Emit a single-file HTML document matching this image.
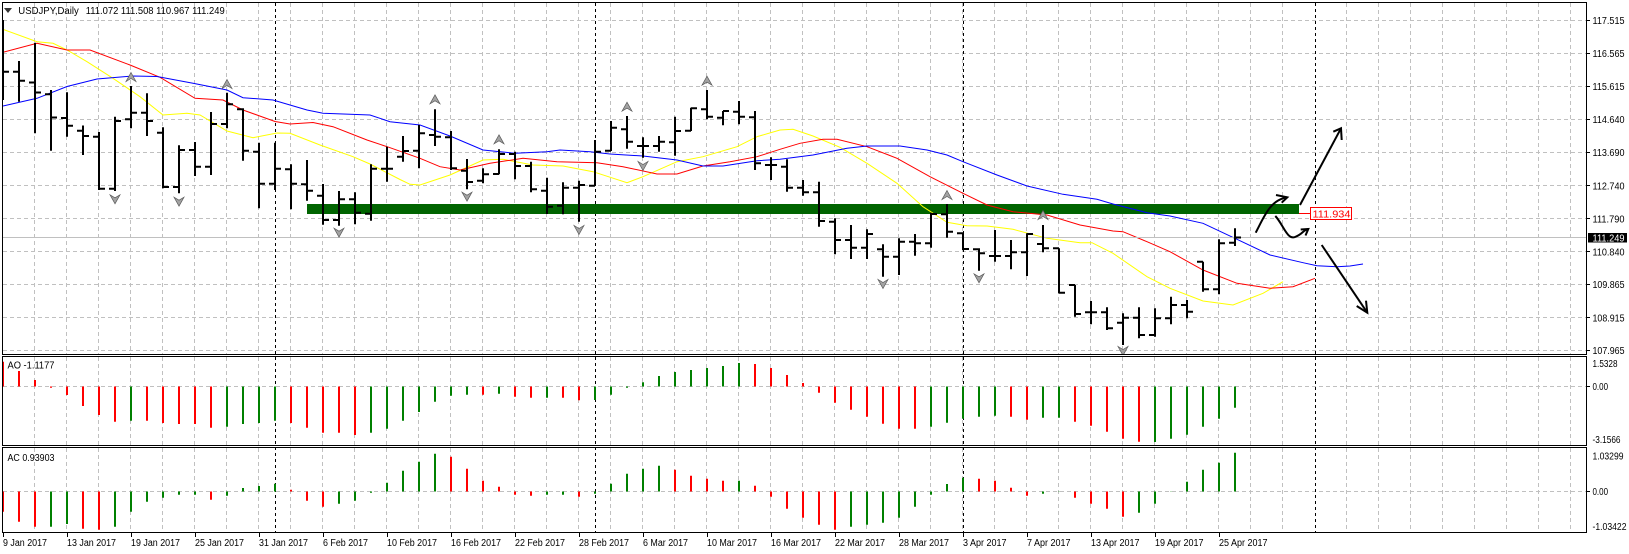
<!DOCTYPE html>
<html><head><meta charset="utf-8"><style>
html,body{margin:0;padding:0;background:#fff;}
svg{display:block;}
text{font-family:"Liberation Sans",sans-serif;font-size:10px;}
</style></head><body>
<svg width="1629" height="554" viewBox="0 0 1629 554" xmlns="http://www.w3.org/2000/svg">
<defs>
<clipPath id="cm"><rect x="3" y="3" width="1583" height="351"/></clipPath>
<clipPath id="ca"><rect x="3" y="357" width="1583" height="88"/></clipPath>
<clipPath id="cc"><rect x="3" y="448" width="1583" height="84"/></clipPath>
<polygon id="fu" points="0,-4.5 5,4.5 0,1.5 -5,4.5" fill="#a3a3a3" stroke="#5a5a5a" stroke-width="0.7"/>
<polygon id="fd" points="0,4.5 5,-4.5 0,-1.5 -5,-4.5" fill="#a3a3a3" stroke="#5a5a5a" stroke-width="0.7"/>
</defs>
<rect width="1629" height="554" fill="#fff"/>

<!-- grids -->
<g stroke="#c0c0c0" stroke-width="1" stroke-dasharray="4 3" fill="none">
<path d="M3 20.5H1586M3 53.5H1586M3 86.5H1586M3 119.5H1586M3 152.5H1586M3 185.5H1586M3 218.5H1586M3 251.5H1586M3 284.5H1586M3 317.5H1586M3 350.5H1586"/>
<path d="M3 386.5H1586M3 491.5H1586"/>
<g id="vg">
<path d="M34.5 3V354M66.5 3V354M98.5 3V354M130.5 3V354M162.5 3V354M194.5 3V354M226.5 3V354M258.5 3V354M290.5 3V354M322.5 3V354M354.5 3V354M386.5 3V354M418.5 3V354M450.5 3V354M482.5 3V354M514.5 3V354M546.5 3V354M578.5 3V354M610.5 3V354M642.5 3V354M674.5 3V354M706.5 3V354M738.5 3V354M770.5 3V354M802.5 3V354M834.5 3V354M866.5 3V354M898.5 3V354M930.5 3V354M962.5 3V354M994.5 3V354M1026.5 3V354M1058.5 3V354M1090.5 3V354M1122.5 3V354M1154.5 3V354M1186.5 3V354M1218.5 3V354M1250.5 3V354M1282.5 3V354M1346.5 3V354M1378.5 3V354M1410.5 3V354M1442.5 3V354M1474.5 3V354M1506.5 3V354M1538.5 3V354M1570.5 3V354"/>
</g>
<path d="M34.5 357V445M66.5 357V445M98.5 357V445M130.5 357V445M162.5 357V445M194.5 357V445M226.5 357V445M258.5 357V445M290.5 357V445M322.5 357V445M354.5 357V445M386.5 357V445M418.5 357V445M450.5 357V445M482.5 357V445M514.5 357V445M546.5 357V445M578.5 357V445M610.5 357V445M642.5 357V445M674.5 357V445M706.5 357V445M738.5 357V445M770.5 357V445M802.5 357V445M834.5 357V445M866.5 357V445M898.5 357V445M930.5 357V445M962.5 357V445M994.5 357V445M1026.5 357V445M1058.5 357V445M1090.5 357V445M1122.5 357V445M1154.5 357V445M1186.5 357V445M1218.5 357V445M1250.5 357V445M1282.5 357V445M1346.5 357V445M1378.5 357V445M1410.5 357V445M1442.5 357V445M1474.5 357V445M1506.5 357V445M1538.5 357V445M1570.5 357V445"/>
<path d="M34.5 448V532M66.5 448V532M98.5 448V532M130.5 448V532M162.5 448V532M194.5 448V532M226.5 448V532M258.5 448V532M290.5 448V532M322.5 448V532M354.5 448V532M386.5 448V532M418.5 448V532M450.5 448V532M482.5 448V532M514.5 448V532M546.5 448V532M578.5 448V532M610.5 448V532M642.5 448V532M674.5 448V532M706.5 448V532M738.5 448V532M770.5 448V532M802.5 448V532M834.5 448V532M866.5 448V532M898.5 448V532M930.5 448V532M962.5 448V532M994.5 448V532M1026.5 448V532M1058.5 448V532M1090.5 448V532M1122.5 448V532M1154.5 448V532M1186.5 448V532M1218.5 448V532M1250.5 448V532M1282.5 448V532M1346.5 448V532M1378.5 448V532M1410.5 448V532M1442.5 448V532M1474.5 448V532M1506.5 448V532M1538.5 448V532M1570.5 448V532"/>
</g>

<!-- period separators -->
<path d="M275.5 3V532M595.5 3V532M963.5 3V532M1315.5 3V532" stroke="#000" stroke-width="1" stroke-dasharray="3 3" fill="none"/>

<!-- main pane content -->
<g clip-path="url(#cm)">
<rect x="307" y="204" width="992" height="10" fill="#006400"/>
<polyline fill="none" stroke="#ffff00" stroke-width="1" points="3,29.3 37,41.7 53,43.3 67,50 87,61.7 113,78.3 140,96.7 163,115 187,113.3 200,115 227,131 253,137.7 277,133 290,133.3 320,145 353,156.7 370,164 400,179.5 410,184.3 420,185 450,175 483,160 503,159.3 533,165 563,166 593,171.7 627,182.7 643,176.7 677,161.7 703,156.7 737,146.7 757,136.7 780,130 793,129.3 813,136 840,147.3 867,163.3 897,183.3 923,206.7 947,222.3 967,225.7 987,226 1013,229.3 1047,238.3 1080,242.7 1092,242.7 1113,253.3 1147,276.7 1170,288.3 1203,301 1233,305 1263,293.3 1283,281.7"/>
<polyline fill="none" stroke="#ff0000" stroke-width="1" points="3,52.3 37,43.3 67,50 90,50 130,65 160,77.3 195,98.3 223,100 243,110 275,121.5 290,124 313,122.5 333,126.7 367,140 390,147.7 420,158.3 440,166.7 460,170 490,163.3 523,158.3 557,161.7 597,162.7 623,166.7 657,174 677,174 703,166 730,161.7 757,156.7 780,149.3 800,143.3 823,139.3 837,139.3 867,146.7 897,158.3 930,176.7 963,193.3 987,205 1013,211.7 1047,215 1080,225 1113,231 1123,231.7 1147,241.7 1170,251.7 1203,270 1237,283.3 1270,288.3 1293,286.7 1315,278.3"/>
<polyline fill="none" stroke="#0000ff" stroke-width="1" points="3,106 37,98.3 67,86.5 97,79 133,76 157,76.5 193,83.3 227,90 243,97.7 273,100 307,110 323,113.3 370,115 390,121.7 420,125 450,136 483,150 515,153.3 547,151.7 560,150 590,151.7 610,154 643,156 677,160 703,166 723,166 757,160.7 780,159.3 813,155 847,148.3 867,146 900,146 927,150 947,155 963,161.7 997,175 1027,186 1063,194.3 1097,199.3 1113,204 1147,212.7 1170,216 1203,223.3 1237,239.3 1270,255 1303,262.7 1317,265.7 1337,266.7 1350,266 1363,264"/>
<path d="M3 237.5H1586" stroke="#c0c0c0" stroke-width="1"/>
<path fill="none" stroke="#000" stroke-width="2" d="M3 20V100M3 71.7H9M19 61V101.7M13 71.7H19M19 80.7H25M35 42.7V133.3M29 82.5H35M35 92.5H41M51 90V150.7M45 94.2H51M51 117.5H57M67 92.3V136.7M61 118H67M67 125.8H73M83 125.5V155M77 130.7H83M83 136H89M99 132V190M93 136.7H99M99 188.7H105M115 116.7V191M109 188.7H115M115 121H121M131 86V128.3M125 119.3H131M131 112.7H137M147 93.3V136M141 112.7H147M147 121H153M163 127.3V188.3M157 132.7H163M163 187H169M179 145.3V193.3M173 187H179M179 150H185M195 142V176M189 150H195M195 166.7H201M211 112V175M205 166.7H211M211 124H217M227 92.7V128.3M221 124H227M227 104.3H233M243 108.3V160.7M237 109.3H243M243 150.7H249M259 142.7V208.3M253 151.7H259M259 183.7H265M275 142.7V190M269 183.7H275M275 168.7H281M291 164.3V209.3M285 169.3H291M291 183.7H297M307 160V200.7M301 184.3H307M307 190.7H313M323 184V224.7M317 195.7H323M323 220H329M339 191V225.7M333 220H339M339 199.3H345M355 192.3V224.3M349 199.3H355M355 212.7H361M371 164.3V220.7M365 213.7H371M371 168.7H377M387 146.7V181.7M381 168.7H387M387 168.7H393M403 136V161.7M397 156.7H403M403 151H409M419 125V168.3M413 150.7H419M419 133.3H425M435 109.3V146M429 135H435M435 136.7H441M451 131V170M445 137.3H451M451 168.3H457M467 159V189.3M461 170.7H467M467 182H473M483 168.3V183.3M477 180.7H483M483 174.3H489M499 149.3V174.3M493 174H499M499 154H505M515 151.7V179.3M509 154H515M515 166H521M531 161.7V192.3M525 166H531M531 189.3H537M547 177.7V214M541 190.7H547M547 206.7H553M563 182.3V214.3M557 205.7H563M563 187.7H569M579 180.7V221.7M573 187.7H579M579 185H585M595 140V186M589 185.7H595M595 151.7H601M611 121V151M605 150.7H611M611 127.7H617M627 116V148.7M621 129.3H627M627 141.7H633M643 137.3V157.7M637 146H643M643 146H649M659 136V151.7M653 146H659M659 141.7H665M675 116.7V155.7M669 142.3H675M675 131H681M691 107.7V131M685 130.7H691M691 108.3H697M707 90V119.3M701 109.3H707M707 116.7H713M723 111V125.3M717 117.7H723M723 111H729M739 101V124.3M733 111.7H739M739 116.7H745M755 111V170M749 117.3H755M755 163.3H761M771 157.3V180M765 165H771M771 165H777M787 159.3V191.7M781 166.7H787M787 187.7H793M803 180V195.7M797 187.7H803M803 192.3H809M819 181.7V226.7M813 192.3H819M819 221H825M835 218.3V254.3M829 221.7H835M835 240H841M851 225V259M845 240H851M851 247.7H857M867 229.3V259M861 247.7H867M867 234H873M883 244.3V276.7M877 249.3H883M883 256.7H889M899 238.3V275M893 256.7H899M899 241.7H905M915 234V255.7M909 241.7H915M915 243.3H921M931 212.7V247.7M925 243.3H931M931 214H937M947 204V237.7M941 214.3H947M947 231.7H953M963 232.7V250M957 233.3H963M963 249H969M979 248.3V270.7M973 249.3H979M979 253.3H985M995 230V261.7M989 256H995M995 256H1001M1011 240V269.3M1005 256H1011M1011 252.3H1017M1027 233.3V276M1021 252.3H1027M1027 234H1033M1043 225V252.3M1037 244H1043M1043 248.3H1049M1059 248.3V293.3M1053 248.3H1059M1059 292.7H1065M1075 285V316.7M1069 285H1075M1075 314H1081M1091 301V324.3M1085 312.3H1091M1091 312.3H1097M1107 307.3V330M1101 312.3H1107M1107 328.3H1113M1123 313.3V345M1117 322.7H1123M1123 317.7H1129M1139 307.3V338.3M1133 317.7H1139M1139 335H1145M1155 308.3V336.7M1149 335H1155M1155 318.3H1161M1171 296.7V324.3M1165 318.3H1171M1171 305H1177M1187 300V318.3M1181 305H1187M1187 311.7H1193M1203 261.7V291.7M1197 261.7H1203M1203 289.3H1209M1219 239.3V294.3M1213 289.3H1219M1219 243.3H1225M1235 228.3V246M1229 242.7H1235M1235 237.5H1241"/>
<!-- fractals -->
<use href="#fu" x="131" y="77"/><use href="#fu" x="227" y="84"/><use href="#fu" x="435" y="99.3"/><use href="#fu" x="499" y="139.3"/><use href="#fu" x="627" y="106.7"/><use href="#fu" x="707" y="80.7"/><use href="#fu" x="947" y="195"/><use href="#fu" x="1043" y="215"/>
<use href="#fd" x="115" y="199.3"/><use href="#fd" x="179" y="201.7"/><use href="#fd" x="339" y="232.7"/><use href="#fd" x="467" y="196.7"/><use href="#fd" x="579" y="230"/><use href="#fd" x="643" y="166"/><use href="#fd" x="883" y="284"/><use href="#fd" x="979" y="278.3"/><use href="#fd" x="1123" y="351"/>
<!-- arrows -->
<g fill="none" stroke="#000" stroke-width="2" stroke-linejoin="miter">
<path d="M1255.7 232.7C1264 217 1270 200 1287.3 197.3"/>
<path d="M1276 195L1287.3 197.3L1281.7 202.7"/>
<path d="M1300 205L1341 128.3"/>
<path d="M1333.3 131.7L1341 128.3L1341.7 140"/>
<path d="M1275.3 216C1283 224 1287 240 1295 237S1303 230 1308.3 229"/>
<path d="M1300.7 229.5L1308.3 229L1305.5 235.5"/>
<path d="M1321.7 245L1367.3 312.7"/>
<path d="M1356.7 306L1367.3 312.7L1366 300.7"/>
</g>
<path d="M1299 213.5H1310.5" stroke="#ff0000" stroke-width="1"/>
<rect x="1310.5" y="207.5" width="41" height="12" fill="#fff" stroke="#ff0000" stroke-width="1"/>
<text x="1312.5" y="217.6" fill="#ff0000" font-size="11" textLength="38" lengthAdjust="spacingAndGlyphs">111.934</text>
</g>

<!-- AO -->
<g clip-path="url(#ca)" fill="none" stroke-width="2">
<path stroke="#ff0000" d="M3 386.5V361.7M19 386.5V371M35 386.5V380M51 386.5V387.7M67 386.5V395M83 386.5V406M99 386.5V415M115 386.5V421.7M147 386.5V420.7M163 386.5V423M179 386.5V424M195 386.5V424M211 386.5V427.7M291 386.5V423M307 386.5V427.7M323 386.5V432.7M339 386.5V432.7M355 386.5V435M483 386.5V394.7M515 386.5V396.7M531 386.5V397.7M563 386.5V397.7M579 386.5V400.3M755 386.5V364M771 386.5V368M787 386.5V375M803 386.5V383M819 386.5V392.7M835 386.5V402.7M851 386.5V409.7M867 386.5V416.7M883 386.5V423.7M899 386.5V428.7M915 386.5V428.7M1011 386.5V416.7M1027 386.5V419.7M1075 386.5V421.7M1091 386.5V425.7M1107 386.5V431.7M1123 386.5V438.7M1139 386.5V441.7"/>
<path stroke="#008000" d="M131 386.5V420.7M227 386.5V426.7M243 386.5V424M259 386.5V423M275 386.5V420.7M371 386.5V432.7M387 386.5V428.7M403 386.5V420.7M419 386.5V412M435 386.5V401.7M451 386.5V395.7M467 386.5V394.7M499 386.5V393.7M547 386.5V397.7M595 386.5V400M611 386.5V394.7M627 386.5V387.7M643 386.5V382.3M659 386.5V376M675 386.5V372M691 386.5V370M707 386.5V368M723 386.5V366M739 386.5V363M931 386.5V426.7M947 386.5V422.7M963 386.5V418.7M979 386.5V416.7M995 386.5V415.7M1043 386.5V417.7M1059 386.5V417.7M1155 386.5V442M1171 386.5V438.7M1187 386.5V434.7M1203 386.5V426.7M1219 386.5V418.7M1235 386.5V407.7"/>
</g>

<!-- AC -->
<g clip-path="url(#cc)" fill="none" stroke-width="2">
<path stroke="#ff0000" d="M3 491.5V511.7M19 491.5V521.7M35 491.5V526.7M83 491.5V528.7M99 491.5V529.7M211 491.5V499.7M291 491.5V489.7M307 491.5V500.7M323 491.5V506.7M451 491.5V456.7M467 491.5V468.7M483 491.5V480.7M499 491.5V486.7M515 491.5V494.7M531 491.5V495.7M579 491.5V496.7M675 491.5V469.7M691 491.5V475.7M707 491.5V478.7M723 491.5V480.7M755 491.5V485.7M771 491.5V496.7M787 491.5V508.7M803 491.5V517.7M819 491.5V524.7M835 491.5V529.7M979 491.5V478.7M995 491.5V480.7M1011 491.5V487.7M1027 491.5V495.7M1075 491.5V497.7M1091 491.5V503.7M1107 491.5V508.7M1123 491.5V516.7"/>
<path stroke="#008000" d="M51 491.5V526.7M67 491.5V524M115 491.5V526.7M131 491.5V511.7M147 491.5V501.7M163 491.5V497.7M179 491.5V494.7M195 491.5V494.7M227 491.5V495.7M243 491.5V488M259 491.5V486M275 491.5V483.7M339 491.5V503.7M355 491.5V500.7M371 491.5V492.7M387 491.5V482.7M403 491.5V470.7M419 491.5V461.7M435 491.5V453.7M547 491.5V494.7M563 491.5V494.7M595 491.5V493.7M611 491.5V483.7M627 491.5V473.7M643 491.5V468.7M659 491.5V465.7M739 491.5V480.7M851 491.5V526.7M867 491.5V524.7M883 491.5V522.7M899 491.5V517.7M915 491.5V506.7M931 491.5V494.7M947 491.5V484M963 491.5V477.7M1043 491.5V493.7M1059 491.5V491.7M1139 491.5V512.7M1155 491.5V503.7M1171 491.5V491.7M1187 491.5V481.7M1203 491.5V469.7M1219 491.5V462.7M1235 491.5V452.7"/>
</g>

<!-- frames -->
<g fill="none" stroke="#000" stroke-width="1">
<rect x="2.5" y="2.5" width="1584" height="352"/>
<rect x="2.5" y="356.5" width="1584" height="89"/>
<rect x="2.5" y="447.5" width="1584" height="85"/>
<path d="M1586 20.5H1590M1586 53.5H1590M1586 86.5H1590M1586 119.5H1590M1586 152.5H1590M1586 185.5H1590M1586 218.5H1590M1586 251.5H1590M1586 284.5H1590M1586 317.5H1590M1586 350.5H1590M1586 386.5H1590M1586 491.5H1590"/>
<path d="M3.5 533V537M67.5 533V537M131.5 533V537M195.5 533V537M259.5 533V537M323.5 533V537M387.5 533V537M451.5 533V537M515.5 533V537M579.5 533V537M643.5 533V537M707.5 533V537M771.5 533V537M835.5 533V537M899.5 533V537M963.5 533V537M1027.5 533V537M1091.5 533V537M1155.5 533V537M1219.5 533V537"/>
</g>

<!-- header -->
<polygon points="4,8 12,8 8,13" fill="#333"/>
<text x="18.3" y="14.2" textLength="60.5" lengthAdjust="spacingAndGlyphs">USDJPY,Daily</text>
<text x="85.7" y="14.2" textLength="139" lengthAdjust="spacingAndGlyphs">111.072 111.508 110.967 111.249</text>
<text x="7.5" y="368.3" textLength="47" lengthAdjust="spacingAndGlyphs">AO -1.1177</text>
<text x="7.5" y="461" textLength="47" lengthAdjust="spacingAndGlyphs">AC 0.93903</text>

<!-- price axis -->
<g fill="#000">
<text x="1592.5" y="24.2" textLength="32" lengthAdjust="spacingAndGlyphs">117.515</text>
<text x="1592.5" y="56.9" textLength="32" lengthAdjust="spacingAndGlyphs">116.565</text>
<text x="1592.5" y="90.2" textLength="32" lengthAdjust="spacingAndGlyphs">115.615</text>
<text x="1592.5" y="122.9" textLength="32" lengthAdjust="spacingAndGlyphs">114.640</text>
<text x="1592.5" y="156.2" textLength="32" lengthAdjust="spacingAndGlyphs">113.690</text>
<text x="1592.5" y="189.5" textLength="32" lengthAdjust="spacingAndGlyphs">112.740</text>
<text x="1592.5" y="222.5" textLength="32" lengthAdjust="spacingAndGlyphs">111.790</text>
<text x="1592.5" y="255.6" textLength="32" lengthAdjust="spacingAndGlyphs">110.840</text>
<text x="1592.5" y="288.2" textLength="32" lengthAdjust="spacingAndGlyphs">109.865</text>
<text x="1592.5" y="321.5" textLength="32" lengthAdjust="spacingAndGlyphs">108.915</text>
<text x="1592.5" y="354.2" textLength="32" lengthAdjust="spacingAndGlyphs">107.965</text>
<text x="1592.5" y="367.2" textLength="25" lengthAdjust="spacingAndGlyphs">1.5328</text>
<text x="1592.5" y="390.2" textLength="15.5" lengthAdjust="spacingAndGlyphs">0.00</text>
<text x="1592.5" y="442.8" textLength="28" lengthAdjust="spacingAndGlyphs">-3.1566</text>
<text x="1592.5" y="459.5" textLength="31" lengthAdjust="spacingAndGlyphs">1.03299</text>
<text x="1592.5" y="495.2" textLength="15.5" lengthAdjust="spacingAndGlyphs">0.00</text>
<text x="1592.5" y="530.2" textLength="34" lengthAdjust="spacingAndGlyphs">-1.03422</text>
</g>
<rect x="1588" y="233" width="39" height="9.5" fill="#000"/>
<text x="1592.5" y="241.4" fill="#fff" textLength="32" lengthAdjust="spacingAndGlyphs">111.249</text>

<!-- date axis -->
<g fill="#000">
<text x="3" y="546" textLength="44" lengthAdjust="spacingAndGlyphs">9 Jan 2017</text>
<text x="67" y="546" textLength="49" lengthAdjust="spacingAndGlyphs">13 Jan 2017</text>
<text x="131" y="546" textLength="49" lengthAdjust="spacingAndGlyphs">19 Jan 2017</text>
<text x="195" y="546" textLength="49" lengthAdjust="spacingAndGlyphs">25 Jan 2017</text>
<text x="259" y="546" textLength="49" lengthAdjust="spacingAndGlyphs">31 Jan 2017</text>
<text x="323" y="546" textLength="45" lengthAdjust="spacingAndGlyphs">6 Feb 2017</text>
<text x="387" y="546" textLength="50" lengthAdjust="spacingAndGlyphs">10 Feb 2017</text>
<text x="451" y="546" textLength="50" lengthAdjust="spacingAndGlyphs">16 Feb 2017</text>
<text x="515" y="546" textLength="50" lengthAdjust="spacingAndGlyphs">22 Feb 2017</text>
<text x="579" y="546" textLength="50" lengthAdjust="spacingAndGlyphs">28 Feb 2017</text>
<text x="643" y="546" textLength="45" lengthAdjust="spacingAndGlyphs">6 Mar 2017</text>
<text x="707" y="546" textLength="50" lengthAdjust="spacingAndGlyphs">10 Mar 2017</text>
<text x="771" y="546" textLength="50" lengthAdjust="spacingAndGlyphs">16 Mar 2017</text>
<text x="835" y="546" textLength="50" lengthAdjust="spacingAndGlyphs">22 Mar 2017</text>
<text x="899" y="546" textLength="50" lengthAdjust="spacingAndGlyphs">28 Mar 2017</text>
<text x="963" y="546" textLength="43.5" lengthAdjust="spacingAndGlyphs">3 Apr 2017</text>
<text x="1027" y="546" textLength="43.5" lengthAdjust="spacingAndGlyphs">7 Apr 2017</text>
<text x="1091" y="546" textLength="48.5" lengthAdjust="spacingAndGlyphs">13 Apr 2017</text>
<text x="1155" y="546" textLength="48.5" lengthAdjust="spacingAndGlyphs">19 Apr 2017</text>
<text x="1219" y="546" textLength="48.5" lengthAdjust="spacingAndGlyphs">25 Apr 2017</text>
</g>
</svg>
</body></html>
